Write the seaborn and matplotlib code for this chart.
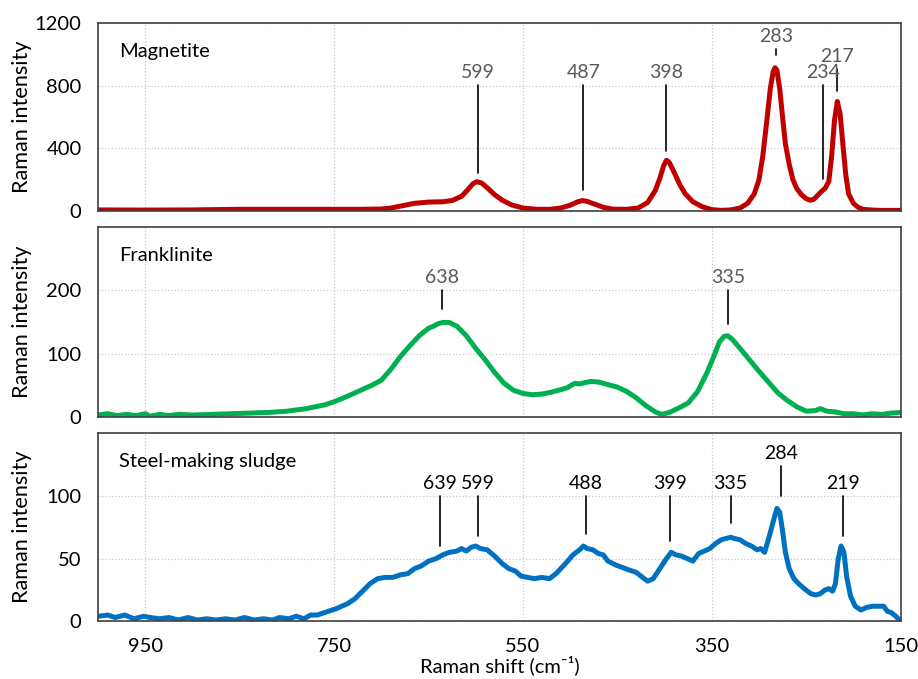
import pandas as pd
import matplotlib.pyplot as plt
import seaborn as sns

# Magnetite spectrum
mag_shift = [1000, 950, 900, 850, 800, 750, 720, 700, 690, 680, 665, 650, 635, 625, 615, 608, 603, 599,
             594, 588, 580, 572, 562, 550, 535, 521, 510, 500, 492, 487, 482, 474, 465, 455, 440, 428,
             418, 410, 405, 401, 398, 395, 390, 384, 378, 370, 360, 350, 340, 330, 320, 312, 305, 300,
             296, 292, 288, 285, 283, 281, 278, 275, 272, 268, 264, 260, 255, 250, 246, 242, 238, 234,
             230, 226, 223, 220, 217, 214, 211, 208, 205, 200, 195, 190, 180, 170, 150]
mag_int = [8, 7, 8, 12, 12, 12, 12, 14, 20, 32, 50, 58, 60, 68, 95, 140, 175, 188,
           180, 150, 105, 70, 40, 20, 12, 12, 20, 38, 60, 68, 62, 45, 25, 13, 12, 20,
           55, 130, 210, 290, 325, 310, 250, 170, 110, 60, 28, 10, 5, 8, 20, 50, 110, 200,
           350, 560, 780, 890, 915, 900, 780, 600, 430, 300, 200, 145, 105, 80, 70, 75, 100, 125,
           145, 190, 350, 580, 700, 620, 420, 230, 110, 50, 25, 12, 7, 5, 5]

# Franklinite spectrum
fra_shift = [1000, 990, 980, 970, 960, 950, 945, 935, 925, 915, 900, 880, 860, 840, 820, 800, 780, 760,
             750, 740, 725, 710, 700, 690, 680, 670, 660, 650, 645, 640, 635, 628, 620, 610, 600, 590,
             580, 570, 560, 550, 540, 530, 520, 510, 503, 500, 495, 490, 485, 478, 470, 460, 450, 440,
             430, 420, 410, 403, 395, 385, 375, 365, 355, 348, 342, 337, 333, 328, 320, 310, 300, 290,
             280, 270, 260, 250, 240, 235, 228, 220, 210, 200, 190, 180, 170, 160, 150]
fra_int = [3, 5, 2, 4, 2, 5, 1, 4, 2, 4, 3, 4, 5, 6, 7, 9, 13, 19,
           24, 30, 40, 50, 58, 75, 95, 112, 128, 140, 143, 147, 149, 149, 143, 128, 108, 90,
           70, 53, 42, 37, 35, 36, 39, 43, 46, 49, 53, 52, 54, 56, 55, 51, 47, 40,
           30, 18, 8, 4, 7, 14, 22, 40, 70, 95, 118, 127, 128, 122, 108, 90, 72, 55,
           38, 26, 16, 9, 10, 13, 9, 8, 5, 5, 3, 5, 4, 6, 7]

# Steel-making sludge spectrum
slu_shift = [1000, 990, 982, 972, 962, 952, 945, 935, 925, 915, 905, 895, 885, 875, 865, 855, 845, 835,
             825, 815, 808, 798, 790, 782, 775, 768, 760, 752, 748, 742, 736, 728, 720, 712, 704, 696,
             688, 680, 672, 665, 658, 650, 642, 635, 628, 620, 615, 610, 605, 600, 595, 588, 580, 572,
             565, 558, 552, 545, 538, 530, 522, 515, 505, 497, 490, 486, 482, 476, 470, 465, 460, 452,
             445, 438, 430, 425, 418, 412, 405, 398, 393, 388, 382, 376, 370, 364, 358, 352, 346, 340,
             335, 330, 326, 320, 314, 308, 302, 298, 294, 289, 284, 281, 278, 275, 272, 268, 263, 258,
             252, 245, 240, 235, 230, 226, 222, 219, 216, 213, 210, 207, 203, 198, 192, 186, 180, 174,
             168, 164, 160, 155, 150]
slu_int = [4, 5, 3, 5, 2, 4, 3, 2, 3, 1, 3, 1, 2, 1, 2, 1, 3, 1,
           2, 1, 3, 2, 4, 2, 5, 5, 7, 9, 10, 12, 14, 18, 24, 30, 34, 35,
           35, 37, 38, 42, 44, 48, 50, 53, 55, 56, 58, 56, 59, 60, 58, 57, 52, 46,
           42, 40, 36, 35, 34, 35, 34, 38, 46, 53, 57, 60, 58, 57, 54, 53, 48, 45,
           43, 41, 39, 36, 32, 34, 42, 50, 55, 53, 52, 50, 48, 54, 56, 58, 62, 65,
           66, 67, 66, 65, 62, 60, 57, 58, 55, 68, 82, 90, 87, 72, 55, 42, 34, 30,
           26, 22, 21, 22, 25, 26, 24, 30, 50, 60, 55, 35, 20, 12, 9, 11, 12, 12,
           12, 8, 7, 4, 0]

# peak markers: position, line bottom, line top, label
mag_peak_x = [598, 486, 398, 282, 232, 217]
mag_peak_lo = [244, 135, 385, 995, 205, 764]
mag_peak_hi = [802, 802, 802, 1033, 802, 905]
mag_peak_lab = ["599", "487", "398", "283", "234", "217"]

fra_peak_x = [636, 333]
fra_peak_lo = [170, 146]
fra_peak_hi = [200, 200]
fra_peak_lab = ["638", "335"]

slu_peak_x = [638, 598, 483, 394, 330, 277, 211]
slu_peak_lo = [60, 68, 70, 64, 78, 100, 68]
slu_peak_hi = [100, 100, 100, 100, 100, 124, 100]
slu_peak_lab = ["639", "599", "488", "399", "335", "284", "219"]

sns.set_style("white")
plt.rcParams["font.family"] = ["Lato", "DejaVu Sans"]
plt.rcParams["text.color"] = "black"
plt.rcParams["axes.labelcolor"] = "black"
plt.rcParams["xtick.color"] = "black"
plt.rcParams["ytick.color"] = "black"

FS = 14.5

fig = plt.figure(figsize=(9.18, 6.79), dpi=100)
boxes = [(0.107, 0.689, 0.874, 0.277),
         (0.107, 0.386, 0.874, 0.280),
         (0.107, 0.085, 0.874, 0.277)]

panels = [
    ("Magnetite", mag_shift, mag_int, "#C00000", (0, 1200), [0, 400, 800, 1200], [200, 600, 1000],
     mag_peak_x, mag_peak_lo, mag_peak_hi, mag_peak_lab, "#595959"),
    ("Franklinite", fra_shift, fra_int, "#00B050", (0, 300), [0, 100, 200], [50, 150, 250],
     fra_peak_x, fra_peak_lo, fra_peak_hi, fra_peak_lab, "#595959"),
    ("Steel-making sludge", slu_shift, slu_int, "#0070C0", (0, 150), [0, 50, 100], [25, 75, 125],
     slu_peak_x, slu_peak_lo, slu_peak_hi, slu_peak_lab, "black"),
]

for i, (name, sx, sy, col, ylim, yt, ymt, px, plo, phi, plab, tcol) in enumerate(panels):
    ax = fig.add_axes(boxes[i])
    df = pd.DataFrame({"shift": sx, "intensity": sy})
    sns.lineplot(data=df, x="shift", y="intensity", ax=ax, color=col, lw=3.6, sort=False)

    for x0, lo, hi, lab in zip(px, plo, phi, plab):
        ax.plot([x0, x0], [lo, hi], color="black", lw=1.2)
        ax.annotate(lab, (x0, hi), xytext=(0, 3), textcoords="offset points",
                    ha="center", va="bottom", fontsize=14, color=tcol)

    ax.set_xlim(1000, 150)
    ax.set_ylim(*ylim)
    ax.set_xticks([950, 750, 550, 350, 150])
    ax.set_xticks([850, 650, 450, 250], minor=True)
    ax.set_yticks(yt)
    ax.set_yticks(ymt, minor=True)
    ax.grid(True, which="major", linestyle=":", color="#c8c8c8", lw=0.9)
    ax.tick_params(which="both", direction="in", length=4, width=1, color="#404040",
                   labelsize=FS, pad=12)
    for s in ax.spines.values():
        s.set_color("#404040")
        s.set_linewidth(1.2)

    ax.text(0.026, 0.85, name, transform=ax.transAxes, fontsize=FS, va="center", ha="left")
    ax.set_ylabel("Raman intensity", fontsize=15.6)
    ax.yaxis.set_label_coords(-0.082, 0.5)

    if i < 2:
        ax.tick_params(axis="x", labelbottom=False)
        ax.set_xlabel("")
    else:
        ax.set_xlabel("Raman shift (cm⁻¹)", fontsize=FS, labelpad=0)

fig.savefig("out.png", dpi=100)
